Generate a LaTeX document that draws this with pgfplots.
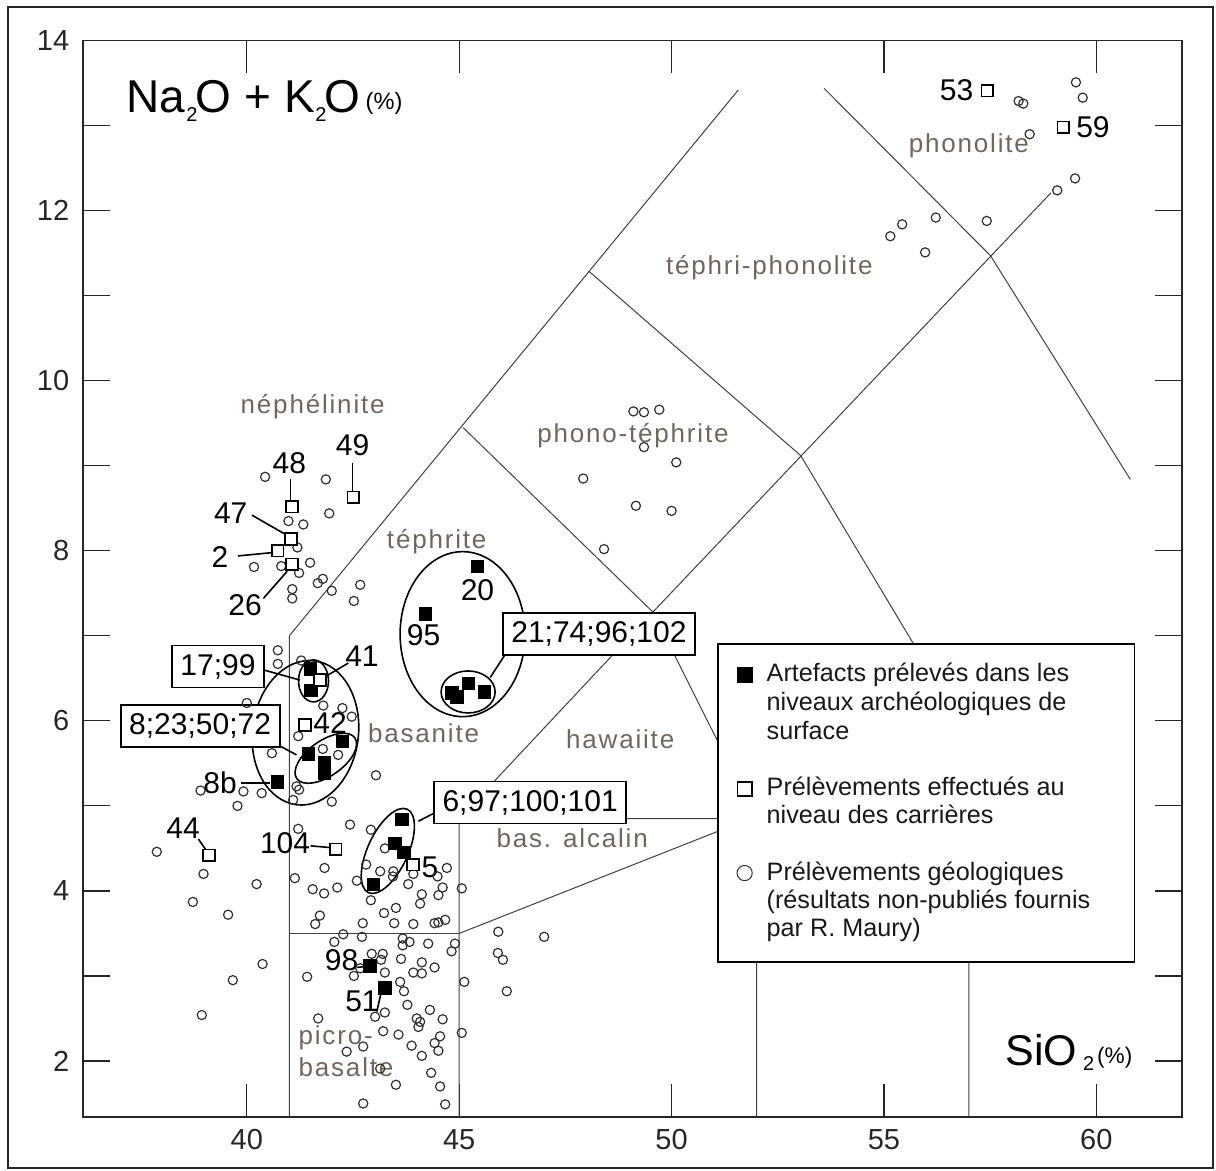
\documentclass[border=0pt]{standalone}
\usepackage{pgfplots}
\pgfplotsset{compat=1.18}
\usepackage{fontspec}
\setmainfont{Liberation Sans}
\newfontfamily\regfont[LetterSpace=7]{Liberation Sans}
\definecolor{reg}{RGB}{112,102,96}
\definecolor{circ}{RGB}{50,48,46}
\tikzset{
  tas/.style={draw=black!75, line width=0.5pt},
  lab/.style={font=\fontsize{15}{18}\selectfont, inner sep=0pt},
  bx/.style={draw=black, line width=0.9pt, fill=white, inner xsep=4.3pt, inner ysep=0pt, minimum height=21pt, font=\fontsize{15}{18}\selectfont},
  rg/.style={font=\regfont\fontsize{13}{15}\selectfont, text=reg, inner sep=0pt},
  lg/.style={font=\fontsize{12.6}{15}\selectfont, anchor=base west, inner sep=0pt, text=black!90},
}
\begin{document}
\begin{tikzpicture}
\useasboundingbox (0,0) rectangle (608pt,585.5pt);
\draw[line width=1pt, black!85] (4.15pt,1.5pt) rectangle (606.5pt,582.15pt);
\begin{axis}[
  at={(41.65pt,27pt)}, anchor=south west,
  scale only axis, width=549.2pt, height=538.15pt,
  xmin=36.15, xmax=62.01, ymin=1.341, ymax=14,
  axis line style={line width=0.8pt, black!85},
  tick align=inside,
  major tick length=13.3pt, minor tick length=11.4pt,
  tick style={line width=0.6pt, black!85},
  xtick=\empty,
  minor xtick={37,38,39,41,42,43,44,46,47,48,49,51,52,53,54,56,57,58,59,61},
  extra x ticks={40,45,50,55,60},
  extra x tick style={major tick length=16.4pt},
  ytick={2,3,...,14},
  yticklabels={2,,4,,6,,8,,10,,12,,14},
  /pgf/number format/assume math mode=true,
  tick label style={font=\fontsize{14.5}{17}\selectfont, black!85},
  xticklabel style={yshift=-2.5pt},
  yticklabel style={xshift=-3.5pt},
]
% ---- TAS boundaries ----
\addplot[tas, no marks] coordinates {(41,1.2) (41,7.0) (51.57,13.42)};
\addplot[tas, no marks] coordinates {(41,3.5) (45,3.5)};
\addplot[tas, no marks] coordinates {(45,1.2) (45,4.85) (49.56,7.28) (52,4.85) (52,1.2)};
\addplot[tas, no marks] coordinates {(45,4.85) (52,4.85) (57,5.82)};
\addplot[tas, no marks] coordinates {(45,3.5) (52,4.88)};
\addplot[tas, no marks] coordinates {(45.09,9.45) (49.56,7.28)};
\addplot[tas, no marks] coordinates {(48.05,11.29) (53.04,9.12)};
\addplot[tas, no marks] coordinates {(49.56,7.28) (58.93,12.21)};
\addplot[tas, no marks] coordinates {(53.59,13.44) (57.51,11.47) (60.8,8.84)};
\addplot[tas, no marks] coordinates {(53.04,9.12) (57,5.82) (57,1.2)};
% ---- region names ----
\node[rg] at (axis cs:41.55,9.70) {néphélinite};
\node[rg] at (axis cs:44.47,8.11) {téphrite};
\node[rg] at (axis cs:49.09,9.36) {phono-téphrite};
\node[rg] at (axis cs:52.30,11.33) {téphri-phonolite};
\node[rg] at (axis cs:57.00,12.76) {phonolite};
\node[rg] at (axis cs:44.16,5.86) {basanite};
\node[rg] at (axis cs:48.79,5.78) {hawaiite};
\node[rg] at (axis cs:47.66,4.62) {bas. alcalin};
\node[rg, anchor=west] at (axis cs:41.21,2.27) {picro-};
\node[rg, anchor=west] at (axis cs:41.21,1.93) {basalte};
% ---- ellipses ----
\draw[line width=0.8pt] (axis cs:45.08,7.02) ellipse (31.25pt and 41.25pt);
\draw[line width=0.8pt] (axis cs:45.21,6.34) ellipse (13.5pt and 10.5pt);
\draw[line width=0.8pt, rotate around={-7:(axis cs:41.38,5.86)}] (axis cs:41.38,5.86) ellipse (26.5pt and 36.25pt);
\draw[line width=0.8pt] (axis cs:41.57,6.47) ellipse (7.5pt and 10.5pt);
\draw[line width=0.8pt, rotate around={35:(axis cs:41.86,5.56)}] (axis cs:41.86,5.56) ellipse (17.75pt and 8.85pt);
\draw[line width=0.8pt, rotate around={65:(axis cs:43.32,4.47)}] (axis cs:43.32,4.47) ellipse (23pt and 10pt);
% ---- leader lines ----
\draw[line width=0.8pt] (axis cs:40.39,6.60) -- (axis cs:41.25,6.48);
\draw[line width=0.8pt] (axis cs:40.72,5.72) -- (axis cs:41.17,5.60);
\draw[line width=0.8pt] (axis cs:41.88,6.53) -- (axis cs:42.39,6.68);
\draw[line width=0.8pt] (axis cs:45.73,6.51) -- (axis cs:46.08,6.78);
\draw[line width=0.8pt] (axis cs:44.04,4.82) -- (axis cs:44.39,4.91);
\draw[line width=0.8pt] (axis cs:39.86,5.27) -- (axis cs:40.55,5.27);
\draw[line width=0.8pt] (axis cs:38.86,4.61) -- (axis cs:39.04,4.48);
\draw[line width=0.8pt] (axis cs:41.50,4.53) -- (axis cs:41.96,4.51);
\draw[line width=0.8pt] (axis cs:42.60,3.10) -- (axis cs:42.78,3.11);
\draw[line width=0.8pt] (axis cs:43.06,2.58) -- (axis cs:43.16,2.80);
\draw[line width=0.8pt] (axis cs:41.03,8.84) -- (axis cs:41.03,8.60);
\draw[line width=0.8pt] (axis cs:42.49,9.03) -- (axis cs:42.49,8.70);
\draw[line width=0.8pt] (axis cs:40.12,8.42) -- (axis cs:40.92,8.19);
\draw[line width=0.8pt] (axis cs:39.79,7.94) -- (axis cs:40.62,7.98);
\draw[line width=0.8pt] (axis cs:40.39,7.44) -- (axis cs:40.95,7.76);
% ---- geological samples (open circles) ----
\addplot[only marks, mark=o, mark size=2.3pt, mark options={draw=circ, line width=0.6pt}] coordinates {
(40.43,8.87) (41.86,8.84) (41.94,8.44) (40.98,8.35) (41.33,8.31) (41.19,8.04)
(40.17,7.81) (40.81,7.82) (41.23,7.74) (41.49,7.86) (41.67,7.62) (41.79,7.67)
(42.00,7.53) (42.67,7.60) (41.07,7.55) (41.07,7.44) (42.52,7.41) (40.73,6.83)
(40.73,6.67) (41.28,6.71) (40.00,6.21) (41.80,6.18) (42.25,6.15) (42.47,6.05)
(41.21,5.82) (41.79,5.67) (42.15,5.60) (40.59,5.62) (43.04,5.36) (38.91,5.18)
(39.92,5.17) (40.35,5.15) (39.78,5.00) (41.17,5.23) (41.23,5.19) (41.09,5.07)
(42.00,5.05) (42.43,4.78) (42.92,4.72) (41.21,4.73) (43.25,4.50) (37.88,4.46)
(38.98,4.20) (40.23,4.08) (38.73,3.87) (39.56,3.72) (41.83,4.27) (41.13,4.15)
(41.55,4.02) (41.82,3.97) (42.13,4.04) (42.59,4.12) (42.81,4.31) (43.14,4.23)
(43.45,4.23) (43.44,4.17) (43.92,4.20) (44.71,4.27) (44.49,4.17) (43.80,4.08)
(44.12,3.96) (44.61,4.04) (44.51,3.95) (45.06,4.03) (44.08,3.85) (42.92,3.89)
(43.23,3.74) (43.51,3.80) (41.72,3.71) (41.61,3.61) (42.73,3.62) (43.47,3.62)
(43.92,3.61) (44.42,3.62) (44.51,3.63) (44.67,3.66) (42.27,3.49) (42.06,3.40)
(42.71,3.46) (43.67,3.44) (43.83,3.40) (43.67,3.36) (44.27,3.38) (44.90,3.38)
(44.82,3.29) (45.92,3.52) (45.91,3.27) (46.03,3.19) (46.12,2.82) (47.00,3.46)
(42.94,3.26) (43.20,3.26) (43.16,3.19) (43.63,3.20) (44.12,3.16) (44.42,3.10)
(43.92,3.04) (44.12,3.03) (43.25,3.04) (42.67,3.09) (42.52,3.00) (41.42,2.99)
(40.37,3.14) (39.67,2.95) (45.12,2.93) (43.61,2.93) (43.70,2.82) (43.78,2.66)
(44.31,2.60) (43.25,2.57) (43.02,2.52) (44.00,2.50) (44.08,2.46) (44.04,2.40)
(44.61,2.49) (41.68,2.50) (38.94,2.54) (43.21,2.35) (43.57,2.31) (43.88,2.18)
(44.12,2.06) (44.42,2.21) (44.55,2.29) (44.51,2.12) (45.06,2.33) (42.35,2.11)
(42.74,2.17) (43.14,1.91) (44.34,1.86) (43.51,1.72) (44.55,1.70) (42.74,1.50)
(44.67,1.49)
(49.10,9.64) (49.35,9.63) (49.71,9.66) (49.35,9.22) (50.11,9.04) (47.92,8.85)
(49.16,8.53) (50.00,8.47) (48.41,8.02)
(55.15,11.70) (55.43,11.84) (56.22,11.92) (55.97,11.51) (57.42,11.88)
(59.08,12.24) (59.50,12.38) (58.43,12.90) (58.17,13.29) (58.28,13.26)
(59.52,13.51) (59.68,13.33)
};
% ---- artefacts (filled squares) ----
\addplot[only marks, mark=square*, mark size=3.1pt, mark options={fill=black, draw=black}] coordinates {
(45.43,7.82) (44.20,7.26)
(44.83,6.33) (44.95,6.28) (45.22,6.44) (45.59,6.34)
(41.49,6.61) (41.51,6.36)
(41.45,5.61) (41.82,5.51) (41.82,5.38) (42.25,5.76)
(40.72,5.28)
(43.65,4.84) (43.49,4.56) (43.70,4.45) (42.98,4.08)
(42.90,3.12) (43.25,2.86)
};
% ---- quarries (open squares) ----
\addplot[only marks, mark=square*, mark size=2.9pt, mark options={fill=white, draw=black, line width=0.85pt}] coordinates {
(41.06,8.52) (42.51,8.63) (41.04,8.14) (40.73,8.00) (41.06,7.84)
(41.72,6.48) (41.37,5.95) (39.11,4.42) (42.09,4.49) (43.91,4.31)
(57.43,13.41) (59.22,12.98)
};
% ---- boxed labels ----
\node[bx] at (axis cs:39.32,6.64) {17;99};
\node[bx] at (axis cs:38.90,5.94) {8;23;50;72};
\node[bx] at (axis cs:48.29,7.02) {21;74;96;102};
\node[bx] at (axis cs:46.67,5.04) {6;97;100;101};
% ---- number labels ----
\node[lab] at (axis cs:41.00,9.03) {48};
\node[lab] at (axis cs:42.49,9.24) {49};
\node[lab] at (axis cs:39.62,8.44) {47};
\node[lab] at (axis cs:39.37,7.93) {2};
\node[lab] at (axis cs:39.96,7.36) {26};
\node[lab] at (axis cs:45.43,7.54) {20};
\node[lab] at (axis cs:44.16,7.01) {95};
\node[lab] at (axis cs:42.71,6.76) {41};
\node[lab] at (axis cs:41.96,5.97) {42};
\node[lab] at (axis cs:39.37,5.27) {8b};
\node[lab] at (axis cs:38.50,4.74) {44};
\node[lab] at (axis cs:40.90,4.56) {104};
\node[lab] at (axis cs:44.31,4.28) {5};
\node[lab] at (axis cs:42.23,3.19) {98};
\node[lab] at (axis cs:42.71,2.70) {51};
\node[lab] at (axis cs:56.71,13.42) {53};
\node[lab] at (axis cs:59.92,12.98) {59};
% ---- axis titles ----
\node[anchor=base west, inner sep=0pt] at (axis cs:37.16,13.15) {\fontsize{23}{28}\selectfont Na\kern0.5pt\raisebox{-4.4pt}{\fontsize{10}{12}\selectfont 2}\kern-0.8ptO + K\kern0.3pt\raisebox{-4.4pt}{\fontsize{10}{12}\selectfont 2}\kern-0.8ptO\kern2.5pt\raisebox{1.5pt}{\fontsize{11.8}{14}\selectfont (\%)}};
\node[anchor=base west, inner sep=0pt] at (axis cs:57.85,1.95) {\fontsize{21.5}{26}\selectfont SiO\kern3pt\raisebox{-2.5pt}{\fontsize{10}{12}\selectfont 2}\kern1.5pt\raisebox{1pt}{\fontsize{11.3}{14}\selectfont (\%)}};
% ---- legend ----
\filldraw[fill=white, draw=black, line width=0.9pt] (axis cs:51.10,6.906) rectangle (axis cs:60.90,3.168);
\addplot[only marks, mark=square*, mark size=3.75pt, mark options={fill=black, draw=black}] coordinates {(51.72,6.54)};
\addplot[only marks, mark=square*, mark size=3.6pt, mark options={fill=white, draw=black, line width=0.85pt}] coordinates {(51.72,5.20)};
\addplot[only marks, mark=o, mark size=3.8pt, mark options={draw=circ, line width=0.5pt}] coordinates {(51.72,4.21)};
\node[lg] at (axis cs:52.23,6.462) {Artefacts prélevés dans les};
\node[lg] at (axis cs:52.23,6.118) {niveaux archéologiques de};
\node[lg] at (axis cs:52.23,5.785) {surface};
\node[lg] at (axis cs:52.23,5.121) {Prélèvements effectués au};
\node[lg] at (axis cs:52.23,4.796) {niveau des carrières};
\node[lg] at (axis cs:52.23,4.121) {Prélèvements géologiques};
\node[lg] at (axis cs:52.23,3.796) {(résultats non-publiés fournis};
\node[lg] at (axis cs:52.23,3.462) {par R. Maury)};
\end{axis}
\end{tikzpicture}
\end{document}
